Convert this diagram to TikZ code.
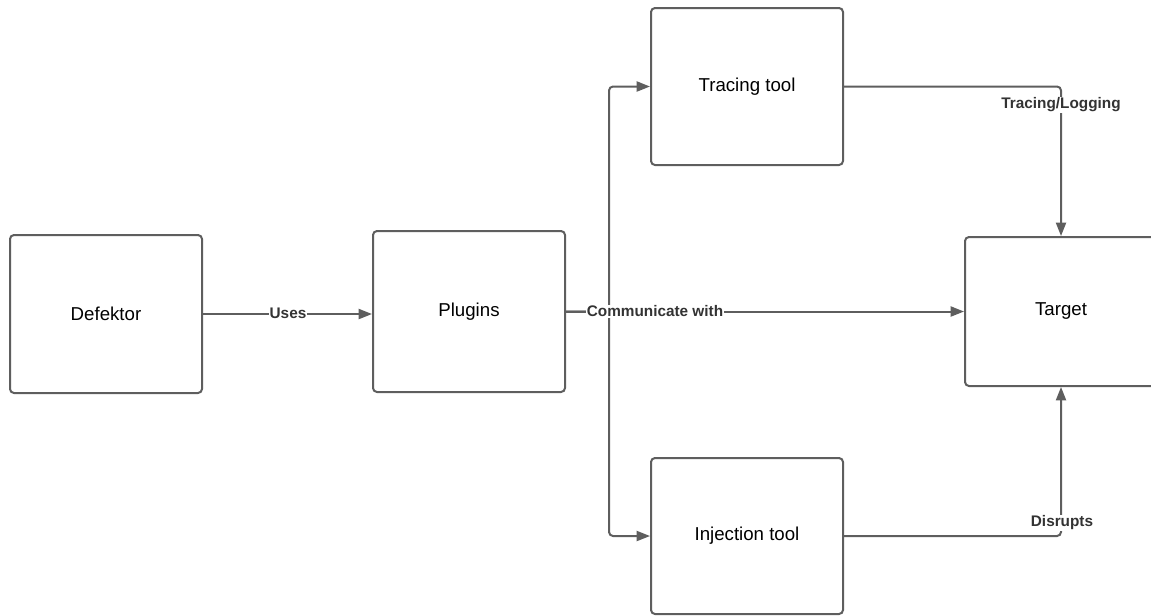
\documentclass[tikz,border=0pt]{standalone}
\usepackage{fontspec}
\setmainfont{Liberation Sans}
\usetikzlibrary{arrows.meta}
\definecolor{edge}{HTML}{5E5E5E}
\definecolor{lbl}{HTML}{333333}
\tikzset{
  box/.style={draw=edge, line width=1.5pt, rounded corners=3pt, fill=white,
    minimum width=144pt, inner sep=0pt, font=\fontsize{14}{16}\selectfont, text=black},
  conn/.style={draw=edge, line width=1.5pt, rounded corners=3pt,
    -{Triangle[length=10pt,width=7.5pt]}},
  lab/.style={fill=white, inner sep=0.6pt, text=lbl,
    font=\fontsize{11.5}{13}\selectfont\bfseries}
}
\begin{document}
\begin{tikzpicture}[x=0.75pt,y=-0.75pt]
\useasboundingbox (0,0) rectangle (1151,615);
\clip (0,0) rectangle (1151,615);
\node[box, minimum height=118.5pt] (def) at (106,314) {Defektor};
\node[box, minimum height=120.75pt] (plu) at (469,311.5) {Plugins};
\node[box, minimum height=117.75pt] (tra) at (747,86.5) {Tracing tool};
\node[box, minimum height=117pt] (inj) at (747,536) {Injection tool};
\node[box, minimum height=111.75pt] (tgt) at (1061,311.5) {Target};
\coordinate (br) at (609,311.5);
\draw[conn] (def.east) -- (def.east -| plu.west);
\draw[conn] (plu.east) -- (tgt.west);
\draw[conn] (plu.east) -- (br) |- (tra.west);
\draw[conn] (plu.east) -- (br) |- (inj.west);
\draw[conn] (tra.east) -| (tgt.north);
\draw[conn] (inj.east) -| (tgt.south);
\node[lab] (l1) at (288,313) {Uses};
\node[lab] (l2) at (655,311.5) {Communicate with};
\node[lab] (l3) at (1061,105) {Tracing/Logging};
\node[lab] (l4) at (1062,523) {Disrupts};
\end{tikzpicture}
\end{document}
